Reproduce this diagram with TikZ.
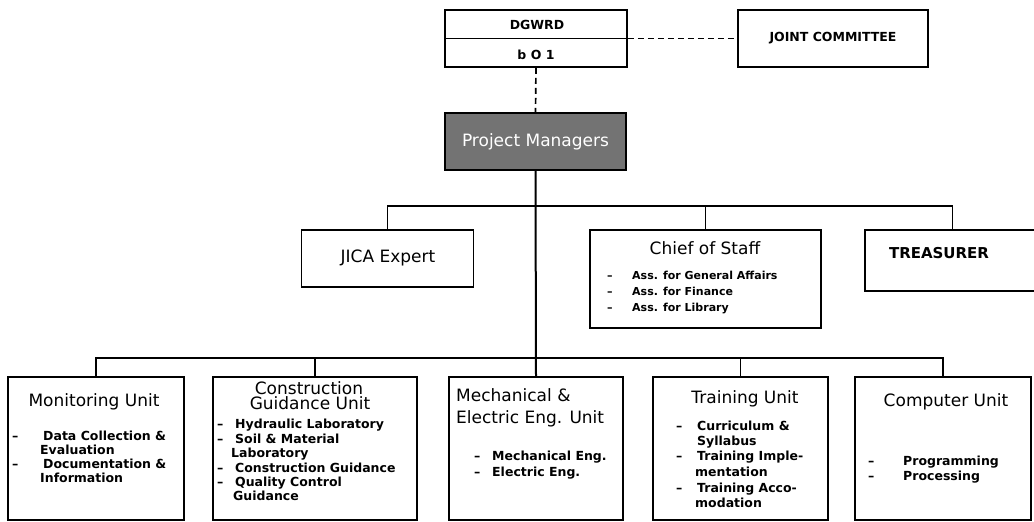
\documentclass[tikz,border=0pt]{standalone}
\usepackage{fontspec}
\setmainfont{DejaVu Sans}
% leading dash of a list entry, set in a fixed-width slot
\newcommand\itemlead[1][20pt]{\makebox[#1][l]{–}}
\begin{document}
\begin{tikzpicture}[x=1pt,y=-1pt,
  frame/.style={draw=black, line width=1.8pt, inner sep=0pt, fill=white},
  link/.style={draw=black, line width=1.6pt},
  trunk/.style={draw=black, line width=2pt},
  dlink/.style={draw=black, line width=1.7pt, dash pattern=on 6pt off 4pt},
  head/.style={inner sep=0pt, font=\fontsize{17}{19}\selectfont, anchor=base},
  headl/.style={inner sep=0pt, font=\fontsize{17}{19}\selectfont, anchor=base west},
  toptext/.style={inner sep=0pt, font=\bfseries\fontsize{12.5}{14}\selectfont, anchor=base},
  itm/.style={inner sep=0pt, font=\bfseries\fontsize{12.5}{14}\selectfont, anchor=base west},
  sitm/.style={inner sep=0pt, font=\bfseries\fontsize{11}{13}\selectfont, anchor=base west}]

\useasboundingbox (0,0) rectangle (1034,522);

% ---- top level ----
\node[frame, minimum width=182pt, minimum height=57pt] (dg) at (536,38.5) {};
\draw[link] (dg.west) -- (dg.east);
\node[toptext] (dgt) at (537,29.5) {DGWRD};
\node[toptext] (dob) at (536,59.5) {b\hspace{0.35em}O\hspace{0.35em}1};
\node[frame, minimum width=190pt, minimum height=57pt,
      font=\bfseries\fontsize{12.5}{14}\selectfont] (joint) at (833,38.5) {JOINT COMMITTEE};
\draw[dlink] (dg.east) -- (joint.west);

\node[frame, fill=black!55, minimum width=181pt, minimum height=57pt, text=white,
      font=\fontsize{17}{19}\selectfont] (pm) at (535.5,141.5) {Project Managers};
\draw[dlink] (dg.south) -- (pm.north);

% ---- staff level ----
\coordinate (midbus) at (536,206);
\node[frame, minimum width=172pt, minimum height=57pt] (jica) at (387.5,258.5) {};
\node[head] (jicat) at (388,262) {JICA Expert};

\node[frame, minimum width=231pt, minimum height=98pt] (chief) at (705.5,279) {};
\node[head] (chieft) at (705,254) {Chief of Staff};
\node[sitm] (ch1) at (607,279.5) {\itemlead[25pt]Ass. for General Affairs};
\node[sitm] (ch2) at (607,295.5) {\itemlead[25pt]Ass. for Finance};
\node[sitm] (ch3) at (607,311.5) {\itemlead[25pt]Ass. for Library};

\node[frame, minimum width=175pt, minimum height=61pt] (treas) at (952.5,260.5) {};
\node[head, font=\bfseries\fontsize{15}{18}\selectfont] (treast) at (939,258.5) {TREASURER};

\draw[link] (jica.north) -- (jica.north |- midbus) -- (treas.north |- midbus) -- (treas.north);
\draw[link] (chief.north) -- (chief.north |- midbus);

% ---- units ----
\coordinate (lowbus) at (536,358);
\node[frame, minimum width=176pt, minimum height=143pt] (mon)   at (96,448.5) {};
\node[frame, minimum width=204pt, minimum height=143pt] (cons)  at (315,448.5) {};
\node[frame, minimum width=174pt, minimum height=143pt] (mech)  at (536,448.5) {};
\node[frame, minimum width=175pt, minimum height=143pt] (train) at (740.5,448.5) {};
\node[frame, minimum width=176pt, minimum height=143pt] (comp)  at (943,448.5) {};

\draw[link] (mon.north) -- (mon.north |- lowbus) -- (comp.north |- lowbus) -- (comp.north);
\draw[link] (cons.north) -- (cons.north |- lowbus);
\draw[link] (train.north) -- (train.north |- lowbus);
\draw[trunk] (pm.south) -- (mech.north);

% Monitoring Unit
\node[head] (mont) at (94,406) {Monitoring Unit};
\node[itm] (mo1) at (12,440) {\itemlead[31pt]Data Collection \&};
\node[itm] (mo2) at (40,454) {Evaluation};
\node[itm] (mo3) at (12,468) {\itemlead[31pt]Documentation \&};
\node[itm] (mo4) at (40,482) {Information};

% Construction Guidance Unit
\node[head] (cot1) at (309,394) {Construction};
\node[head] (cot2) at (310,409) {Guidance Unit};
\node[itm] (co1) at (217,428) {\itemlead[18pt]Hydraulic Laboratory};
\node[itm] (co2) at (217,443) {\itemlead[18pt]Soil \& Material};
\node[itm] (co3) at (231,457) {Laboratory};
\node[itm] (co4) at (217,472) {\itemlead[18pt]Construction Guidance};
\node[itm] (co5) at (217,486) {\itemlead[18pt]Quality Control};
\node[itm] (co6) at (233,500) {Guidance};

% Mechanical & Electric Eng. Unit
\node[headl] (met1) at (456,401) {Mechanical \&};
\node[headl] (met2) at (456,423) {Electric Eng. Unit};
\node[itm] (me1) at (474,460) {\itemlead[18pt]Mechanical Eng.};
\node[itm] (me2) at (474,476) {\itemlead[18pt]Electric Eng.};

% Training Unit
\node[head] (trt) at (745,403) {Training Unit};
\node[itm] (tr1) at (676,430) {\itemlead[21pt]Curriculum \&};
\node[itm] (tr2) at (697,445) {Syllabus};
\node[itm] (tr3) at (676,460) {\itemlead[21pt]Training Imple-};
\node[itm] (tr4) at (695,476) {mentation};
\node[itm] (tr5) at (676,492) {\itemlead[21pt]Training Acco-};
\node[itm] (tr6) at (695,507) {modation};

% Computer Unit
\node[head] (cmt) at (946,406) {Computer Unit};
\node[itm] (cm1) at (868,465) {\itemlead[35pt]Programming};
\node[itm] (cm2) at (868,480) {\itemlead[35pt]Processing};

\end{tikzpicture}
\end{document}
